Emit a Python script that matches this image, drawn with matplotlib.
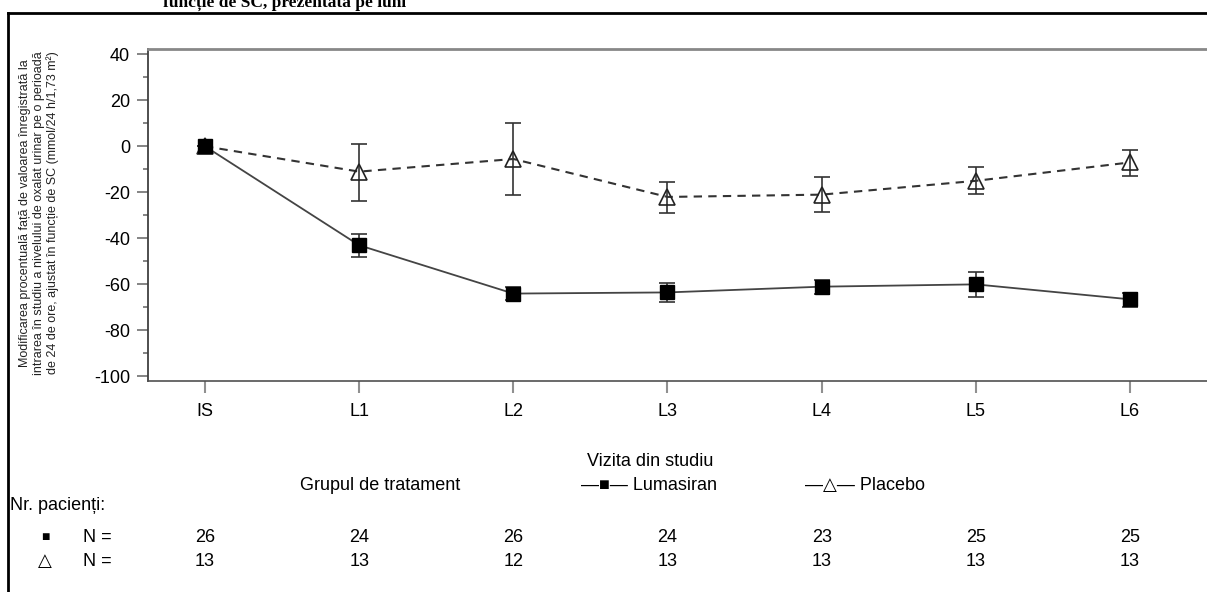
import matplotlib
matplotlib.use("Agg")
import matplotlib.pyplot as plt
from matplotlib.lines import Line2D

plt.rcParams["font.family"] = ["Liberation Sans", "DejaVu Sans"]
plt.rcParams["axes.unicode_minus"] = False

visits = ["IS", "L1", "L2", "L3", "L4", "L5", "L6"]

lum_mean = [0, -43, -64, -63.5, -61, -60, -66.5]
lum_low = [0, -48.3, -67, -67.7, -64, -65.5, -69.7]
lum_high = [0, -38.2, -61, -59.4, -57.9, -54.7, -63.7]

pla_mean = [0, -11, -5.5, -22, -21, -15, -7]
pla_low = [0, -23.8, -21, -28.8, -28.5, -20.7, -12.8]
pla_high = [0, 1.2, 10.2, -15.4, -13.3, -9.2, -1.4]

n_lum = [26, 24, 26, 24, 23, 25, 25]
n_pla = [13, 13, 12, 13, 13, 13, 13]

W, H = 1207, 592
fig = plt.figure(figsize=(W / 100, H / 100), dpi=100)


def fx(px):
    return px / W


def fy(py):
    return 1 - py / H


ax = fig.add_axes([fx(148), fy(381), fx(W - 148), (381 - 49) / H])
xs = list(range(len(visits)))

lum_err = [[m - lo for m, lo in zip(lum_mean, lum_low)],
           [hi - m for m, hi in zip(lum_mean, lum_high)]]
pla_err = [[m - lo for m, lo in zip(pla_mean, pla_low)],
           [hi - m for m, hi in zip(pla_mean, pla_high)]]

ax.errorbar(xs, pla_mean, yerr=pla_err, color="#333333", lw=1.5,
            ls=(0, (4, 3)), marker="^", ms=11, mfc="none", mec="#222222",
            mew=1.2, ecolor="#333333", elinewidth=1.2, capsize=5.5,
            capthick=1.2, zorder=2)
ax.errorbar(xs, lum_mean, yerr=lum_err, color="#444444", lw=1.3,
            marker="s", ms=9.5, mfc="black", mec="black",
            ecolor="#333333", elinewidth=1.2, capsize=5.5, capthick=1.2,
            zorder=3)

ax.set_xlim(-0.37, 6.5)
ax.set_ylim(-102, 42.3)
ax.set_xticks(xs)
ax.set_xticklabels(visits, fontsize=13)
ax.set_yticks(range(-100, 41, 20))
ax.set_yticks(range(-90, 31, 20), minor=True)
ax.tick_params(axis="y", which="major", length=8, width=1.2,
               color="#707070", labelsize=13, pad=5)
ax.tick_params(axis="y", which="minor", length=3.6, width=1.2,
               color="#707070")
ax.tick_params(axis="x", length=8.5, width=1.5, color="#909090",
               labelsize=13, pad=7)

ax.spines["right"].set_visible(False)
ax.spines["top"].set_color("#888888")
ax.spines["top"].set_linewidth(2)
ax.spines["left"].set_color("#404040")
ax.spines["left"].set_linewidth(1.3)
ax.spines["bottom"].set_color("#505050")
ax.spines["bottom"].set_linewidth(1.2)

fig.text(fx(39), 0.5 * (fy(53) + fy(373)),
         "Modificarea procentuală față de valoarea înregistrată la\n"
         "intrarea în studiu a nivelului de oxalat urinar pe o perioadă\n"
         "de 24 de ore, ajustat în funcție de SC (mmol/24 h/1,73 m²)",
         rotation=90, ha="center", va="center", fontsize=9,
         linespacing=1.15, color="#222222")

# page frame and cut-off heading
fig.add_artist(Line2D([fx(8), fx(8)], [fy(13), 0], color="black", lw=2))
fig.add_artist(Line2D([fx(8), 1], [fy(13), fy(13)], color="black", lw=2))
fig.text(fx(163), fy(7), "funcție de SC, prezentată pe luni",
         family="Liberation Serif", weight="bold", fontsize=12.5,
         va="baseline")

fs = 13
fig.text(fx(650), fy(461), "Vizita din studiu", ha="center", va="center",
         fontsize=fs)
fig.text(fx(380), fy(485), "Grupul de tratament", ha="center",
         va="center", fontsize=fs)
fig.text(fx(581), fy(485), "—■— Lumasiran", ha="left", va="center",
         fontsize=fs)
fig.text(fx(805), fy(485), "—△— Placebo", ha="left", va="center",
         fontsize=fs)
fig.text(fx(10), fy(505), "Nr. pacienți:", ha="left", va="center",
         fontsize=fs)

for row_y, sym, sym_fs, counts in [(537, "■", 10, n_lum),
                                   (561, "△", fs, n_pla)]:
    fig.text(fx(45), fy(row_y), sym, ha="center", va="center",
             fontsize=sym_fs)
    fig.text(fx(83), fy(row_y), "N =", ha="left", va="center", fontsize=fs)
    for x, n in zip(xs, counts):
        px = ax.transData.transform((x, 0))[0]
        fig.text(px / fig.bbox.width, fy(row_y), str(n), ha="center",
                 va="center", fontsize=fs)

fig.savefig("out.png", dpi=100)
